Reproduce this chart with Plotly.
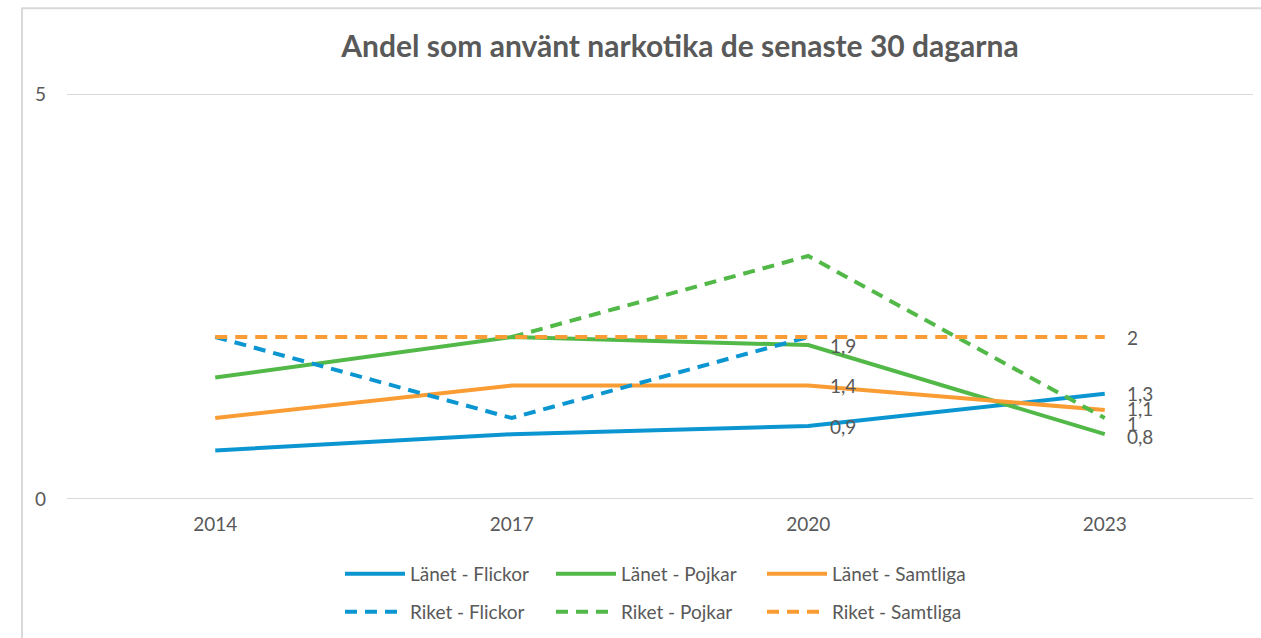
import plotly.graph_objects as go

years = ["2014", "2017", "2020", "2023"]
lanet_flickor = [0.6, 0.8, 0.9, 1.3]
lanet_pojkar = [1.5, 2.0, 1.9, 0.8]
lanet_samtliga = [1.0, 1.4, 1.4, 1.1]
riket_flickor = [2.0, 1.0, 2.0, None]
riket_pojkar = [None, 2.0, 3.0, 1.0]
riket_samtliga = [2.0, 2.0, 2.0, 2.0]

names = ["Länet - Flickor", "Länet - Pojkar", "Länet - Samtliga",
         "Riket - Flickor", "Riket - Pojkar", "Riket - Samtliga"]
series = [lanet_flickor, lanet_pojkar, lanet_samtliga,
          riket_flickor, riket_pojkar, riket_samtliga]
# which points carry a data label (indices into years)
label_idx = [[2, 3], [2, 3], [2, 3], [], [3], [3]]
y_ticks = [0, 5]

BLUE = "#0b96d2"
GREEN = "#52b948"
ORANGE = "#fa9c34"
colors = [BLUE, GREEN, ORANGE, BLUE, GREEN, ORANGE]
dashes = ["solid", "solid", "solid", "12px,8px", "12px,8px", "12px,8px"]
legends = ["legend", "legend", "legend", "legend2", "legend2", "legend2"]
# small vertical nudges for crowded labels at 2023 (as in the original)
label_nudge = {(1, 3): -2, (2, 3): 1, (4, 3): -5}

FONT = "Lato"
GREY = "#595959"
FS = 19

fig = go.Figure()
for name, vals, col, dsh, lg in zip(names, series, colors, dashes, legends):
    fig.add_trace(go.Scatter(
        x=years, y=vals, name=name, mode="lines",
        line=dict(color=col, width=4, dash=dsh),
        connectgaps=False, hoverinfo="skip", legend=lg,
    ))

annotations = []
for s, (vals, idxs) in enumerate(zip(series, label_idx)):
    for i in idxs:
        v = vals[i]
        txt = f"{v:g}".replace(".", ",")
        annotations.append(dict(
            x=i, y=v, xref="x", yref="y", text=txt,
            showarrow=False, xanchor="left", yanchor="middle",
            xshift=20, yshift=label_nudge.get((s, i), 0),
            font=dict(family=FONT, size=FS, color=GREY),
        ))

W, H = 1261, 638
L, R, T, B = 67, 8, 94, 138
pw = W - L - R
ph = H - T - B

legend_common = dict(orientation="h", xanchor="left", yanchor="middle",
                     x=(340 - L) / pw,
                     entrywidth=136, entrywidthmode="pixels",
                     font=dict(family=FONT, size=FS, color=GREY),
                     itemwidth=60, bgcolor="rgba(0,0,0,0)")

shapes = [dict(type="rect", xref="paper", yref="paper",
               x0=(22 - L) / pw, x1=(W + 20 - L) / pw,
               y0=-0.6, y1=(H - B - 8) / ph,
               line=dict(color="#d9d9d9", width=2), layer="below")]
for t in y_ticks:
    shapes.append(dict(type="line", xref="paper", yref="y",
                       x0=0, x1=1, y0=t, y1=t,
                       line=dict(color="#d9d9d9", width=2), layer="below"))

fig.update_layout(
    width=W, height=H,
    margin=dict(l=L, r=R, t=T, b=B),
    paper_bgcolor="white", plot_bgcolor="white",
    font=dict(family=FONT, color=GREY),
    title=dict(text="<b>Andel som använt narkotika de senaste 30 dagarna</b>",
               x=680 / W, xanchor="center", xref="container",
               y=1 - 46 / H, yanchor="middle", yref="container",
               font=dict(family=FONT, size=30, color=GREY)),
    xaxis=dict(type="category", range=[-0.5, 3.5], showgrid=False,
               showline=False, ticks="", zeroline=False,
               ticklabelstandoff=12,
               tickfont=dict(family=FONT, size=FS, color=GREY)),
    yaxis=dict(range=[0, 5], tickvals=y_ticks,
               ticktext=[str(t) for t in y_ticks],
               showgrid=False, zeroline=False, showline=False, ticks="",
               ticklabelstandoff=20,
               tickfont=dict(family=FONT, size=FS, color=GREY)),
    legend=dict(y=(500 - 574) / ph, **legend_common),
    legend2=dict(y=(500 - 612) / ph, **legend_common),
    annotations=annotations,
    separators=", ",
    shapes=shapes,
)

fig.write_html("out.html", config={"displayModeBar": False},
               post_script="document.body.style.margin='0px';")
